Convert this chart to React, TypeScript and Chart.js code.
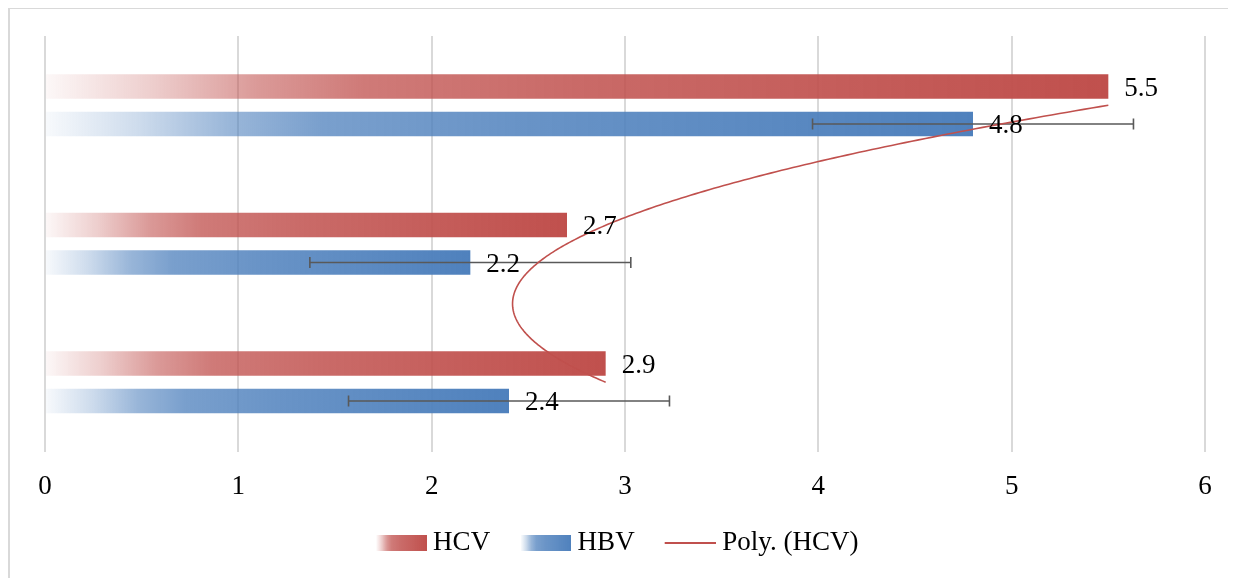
import React, { useEffect, useRef } from 'react';
import { Chart, registerables } from 'chart.js';

Chart.register(...registerables);

// ---- data ----
const categories = ['Group 1', 'Group 2', 'Group 3'];
const hcvValues = [5.5, 2.7, 2.9];
const hbvValues = [4.8, 2.2, 2.4];
const hbvErrors = [0.83, 0.83, 0.83];
const xTickValues = [0, 1, 2, 3, 4, 5, 6];
const seriesNames = ['HCV', 'HBV'];
const trendName = 'Poly. (HCV)';

// ---- styles ----
const FONT = "'Liberation Serif', 'Times New Roman', Times, serif";
const RED: [number, number, number] = [192, 80, 77];
const BLUE: [number, number, number] = [79, 129, 189];
const rgba = (c: number[], a: number) => `rgba(${c[0]},${c[1]},${c[2]},${a})`;
const LEGEND_BOX = 48;
const SWATCH_W = 50;
const IMG_W = LEGEND_BOX + 14;

function addStops(g: CanvasGradient, c: number[]) {
  g.addColorStop(0, rgba(c, 0.04));
  g.addColorStop(0.1, rgba(c, 0.28));
  g.addColorStop(0.2, rgba(c, 0.58));
  g.addColorStop(0.3, rgba(c, 0.76));
  g.addColorStop(0.5, rgba(c, 0.85));
  g.addColorStop(1, rgba(c, 1));
}

function makeSwatch(c: number[]) {
  const cv = document.createElement('canvas');
  cv.width = IMG_W;
  cv.height = 16;
  const cx = cv.getContext('2d')!;
  const x0 = IMG_W - SWATCH_W;
  const g = cx.createLinearGradient(x0, 0, IMG_W, 0);
  addStops(g, c);
  cx.fillStyle = g;
  cx.fillRect(x0, 0, SWATCH_W, 16);
  return cv;
}

function makeLineSwatch(c: number[]) {
  const cv = document.createElement('canvas');
  cv.width = IMG_W;
  cv.height = 2;
  const cx = cv.getContext('2d')!;
  cx.fillStyle = rgba(c, 1);
  cx.fillRect(IMG_W - 51, 0, 51, 2);
  return cv;
}

function gradientFill(c: number[]) {
  return (ctx: any) => {
    const chart = ctx.chart;
    if (!chart.chartArea || ctx.type !== 'data') return rgba(c, 1);
    const xs = chart.scales.x;
    const x0 = xs.getPixelForValue(0);
    const x1 = xs.getPixelForValue(ctx.raw);
    if (!isFinite(x0) || !isFinite(x1) || x1 - x0 < 1) return rgba(c, 1);
    const g = chart.ctx.createLinearGradient(x0, 0, x1, 0);
    addStops(g, c);
    return g;
  };
}

// least squares polynomial fit
function polyFit(ys: number[], order: number) {
  const n = order + 1;
  const A: number[][] = Array.from({ length: n }, () => new Array(n + 1).fill(0));
  ys.forEach((y, i) => {
    for (let r = 0; r < n; r++) {
      for (let c = 0; c < n; c++) A[r][c] += Math.pow(i, r + c);
      A[r][n] += y * Math.pow(i, r);
    }
  });
  for (let p = 0; p < n; p++) {
    let max = p;
    for (let r = p + 1; r < n; r++) if (Math.abs(A[r][p]) > Math.abs(A[max][p])) max = r;
    [A[p], A[max]] = [A[max], A[p]];
    for (let r = p + 1; r < n; r++) {
      const f = A[r][p] / A[p][p];
      for (let c = p; c <= n; c++) A[r][c] -= f * A[p][c];
    }
  }
  const coef = new Array(n).fill(0);
  for (let r = n - 1; r >= 0; r--) {
    let s = A[r][n];
    for (let c = r + 1; c < n; c++) s -= A[r][c] * coef[c];
    coef[r] = s / A[r][r];
  }
  return (t: number) => coef.reduce((acc, k, i) => acc + k * Math.pow(t, i), 0);
}

const framePlugin = {
  id: 'frame',
  beforeDraw(chart: any) {
    const { ctx, width, height } = chart;
    ctx.save();
    ctx.strokeStyle = '#d9d9d9';
    ctx.lineWidth = 2;
    ctx.beginPath();
    ctx.moveTo(1, height);
    ctx.lineTo(1, 1);
    ctx.lineTo(width, 1);
    ctx.stroke();
    ctx.restore();
  },
};

const legendShiftPlugin = {
  id: 'legendShift',
  afterLayout(chart: any) {
    const lg = chart.legend;
    if (lg) {
      lg.left -= 10;
      lg.right -= 10;
    }
  },
};

const extrasPlugin = {
  id: 'extras',
  afterDatasetsDraw(chart: any) {
    const { ctx } = chart;
    const xs = chart.scales.x;
    const ys = chart.scales.y;
    // error bars on HBV
    const hbvMeta = chart.getDatasetMeta(1);
    ctx.save();
    ctx.strokeStyle = '#595959';
    ctx.lineWidth = 1.6;
    hbvMeta.data.forEach((el: any, i: number) => {
      const v = hbvValues[i];
      const e = hbvErrors[i];
      const xa = xs.getPixelForValue(v - e);
      const xb = xs.getPixelForValue(v + e);
      const y = el.y;
      ctx.beginPath();
      ctx.moveTo(xa, y);
      ctx.lineTo(xb, y);
      ctx.moveTo(xa, y - 5.5);
      ctx.lineTo(xa, y + 5.5);
      ctx.moveTo(xb, y - 5.5);
      ctx.lineTo(xb, y + 5.5);
      ctx.stroke();
    });
    ctx.restore();

    // polynomial (order 2) trendline of HCV
    const f = polyFit(hcvValues, 2);
    ctx.save();
    ctx.strokeStyle = rgba(RED, 1);
    ctx.lineWidth = 1.6;
    ctx.beginPath();
    const last = hcvValues.length - 1;
    for (let s = 0; s <= 200; s++) {
      const t = (s / 200) * last;
      const px = xs.getPixelForValue(f(t));
      const py = ys.getPixelForValue(t);
      if (s === 0) ctx.moveTo(px, py);
      else ctx.lineTo(px, py);
    }
    ctx.stroke();
    ctx.restore();

    // data labels
    ctx.save();
    ctx.font = `27px ${FONT}`;
    ctx.fillStyle = '#000';
    ctx.textAlign = 'left';
    ctx.textBaseline = 'middle';
    [hcvValues, hbvValues].forEach((vals, di) => {
      const meta = chart.getDatasetMeta(di);
      meta.data.forEach((el: any, i: number) => {
        ctx.fillText(String(vals[i]), el.x + 16, el.y + 2);
      });
    });
    ctx.restore();
  },
};

export default function App() {
  const ref = useRef<HTMLCanvasElement>(null);
  useEffect(() => {
    if (!ref.current) return;
    const hcvSwatch = makeSwatch(RED);
    const hbvSwatch = makeSwatch(BLUE);
    const lineSwatch = makeLineSwatch(RED);
    const chart = new Chart(ref.current, {
      type: 'bar',
      data: {
        labels: categories,
        datasets: [
          {
            label: seriesNames[0],
            data: hcvValues,
            backgroundColor: gradientFill(RED),
            borderWidth: 0,
            barPercentage: 0.653,
            categoryPercentage: 0.541,
          },
          {
            label: seriesNames[1],
            data: hbvValues,
            backgroundColor: gradientFill(BLUE),
            borderWidth: 0,
            barPercentage: 0.653,
            categoryPercentage: 0.541,
          },
        ],
      },
      options: {
        indexAxis: 'y',
        responsive: false,
        animation: false,
        events: [],
        layout: { padding: { left: 37, right: 31, top: 29, bottom: 11.5 } },
        scales: {
          x: {
            type: 'linear',
            min: 0,
            max: 6,
            afterBuildTicks: (s: any) => {
              s.ticks = xTickValues.map((v) => ({ value: v }));
            },
            afterFit: (s: any) => {
              s.height = Math.max(52, s.height - 21);
            },
            ticks: {
              font: { family: FONT, size: 27 },
              color: '#000',
              padding: 19,
              maxRotation: 0,
            },
            grid: { color: '#d9d9d9', lineWidth: 2, drawTicks: false },
            border: { display: false },
          },
          y: { display: false },
        },
        plugins: {
          tooltip: { enabled: false },
          legend: {
            position: 'bottom',
            labels: {
              usePointStyle: true,
              pointStyleWidth: LEGEND_BOX,
              boxHeight: 16,
              padding: 26,
              color: '#000',
              font: { family: FONT, size: 27 },
              generateLabels: () => [
                { text: seriesNames[0], pointStyle: hcvSwatch as any, fillStyle: rgba(RED, 1), strokeStyle: 'transparent', lineWidth: 0, hidden: false, datasetIndex: 0 },
                { text: seriesNames[1], pointStyle: hbvSwatch as any, fillStyle: rgba(BLUE, 1), strokeStyle: 'transparent', lineWidth: 0, hidden: false, datasetIndex: 1 },
                { text: trendName, pointStyle: lineSwatch as any, fillStyle: rgba(RED, 1), strokeStyle: 'transparent', lineWidth: 0, hidden: false },
              ],
            },
          },
        },
      },
      plugins: [framePlugin, legendShiftPlugin, extrasPlugin],
    } as any);
    return () => chart.destroy();
  }, []);
  return (
    <div style={{ width: 1228, height: 571, marginTop: -1 }}>
      <canvas ref={ref} width={1228} height={571} style={{ display: 'block', width: 1228, height: 571 }} />
    </div>
  );
}
